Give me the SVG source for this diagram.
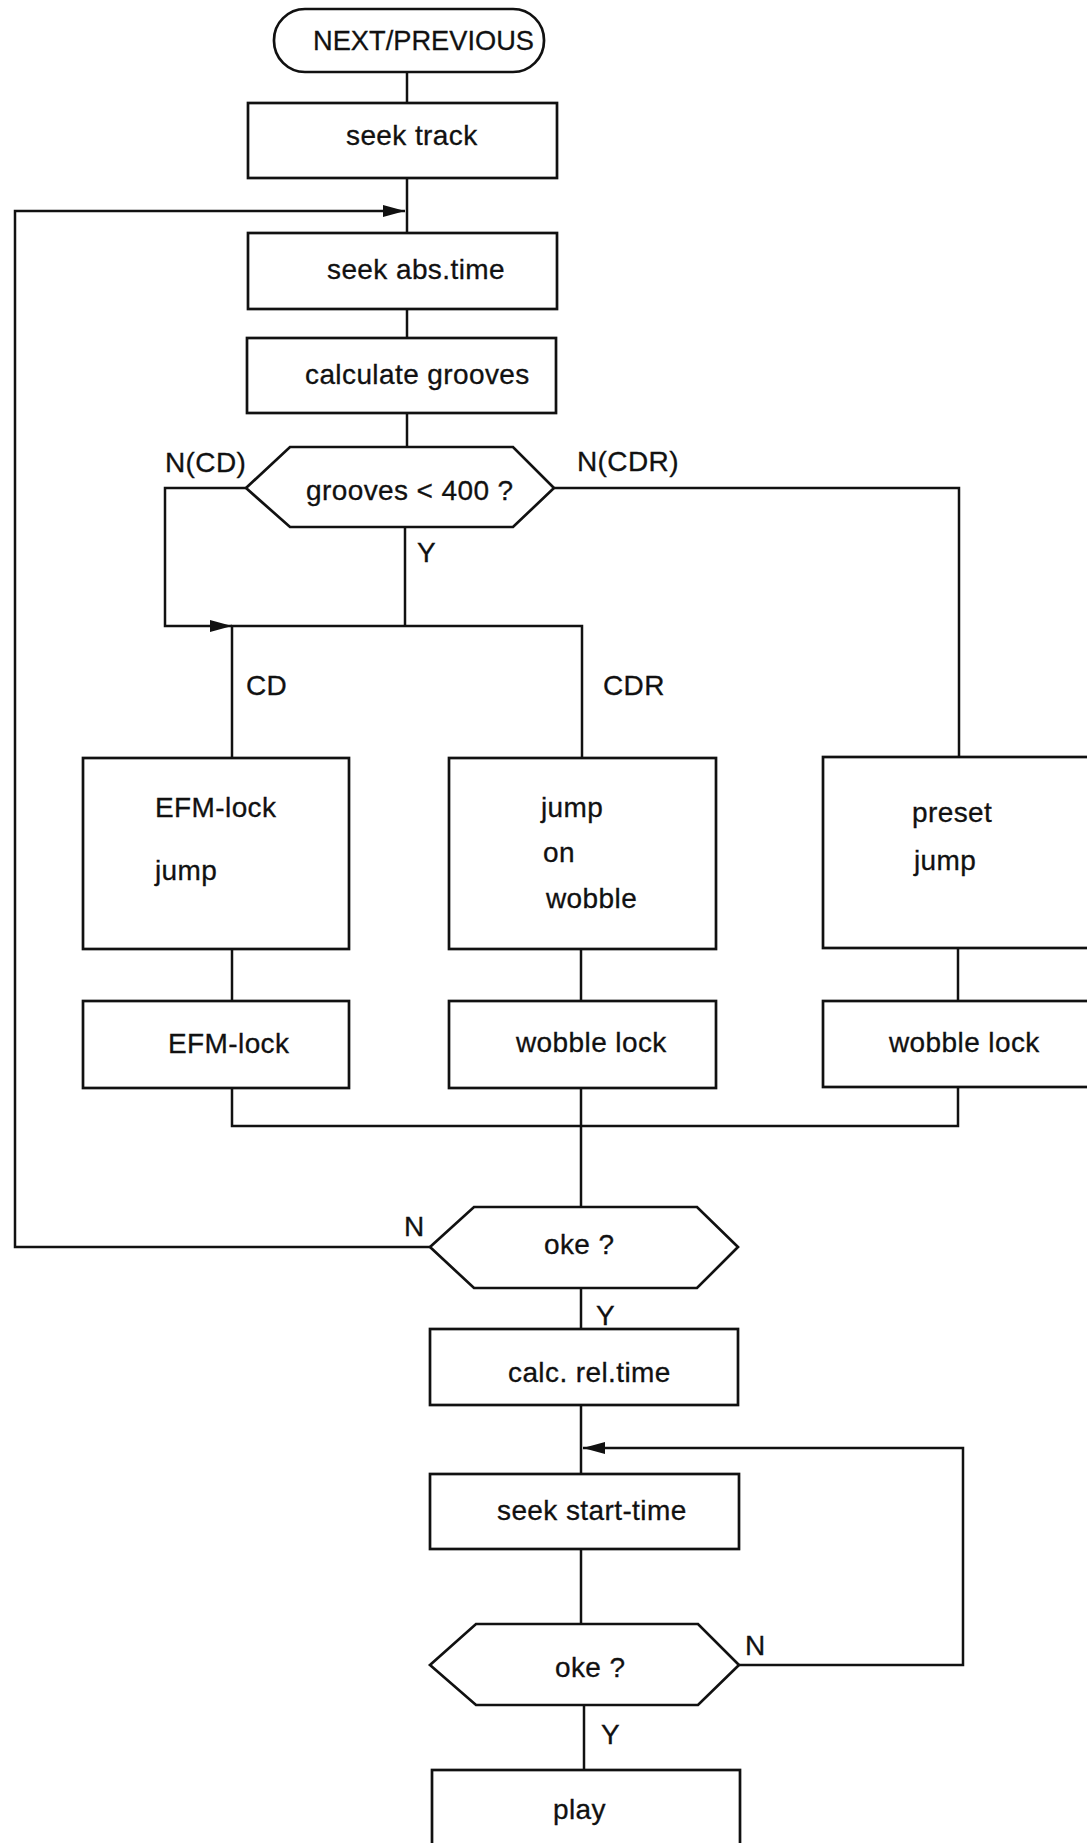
<svg xmlns="http://www.w3.org/2000/svg" width="1087" height="1843" viewBox="0 0 1087 1843">
<style>
.n{fill:#fff;stroke:#111;stroke-width:2.7}
.c{fill:none;stroke:#111;stroke-width:2.5}
text{font-family:"Liberation Sans",Arial,sans-serif;font-size:28px;letter-spacing:0.4px;fill:#111;stroke:#111;stroke-width:0.3}
</style>
<defs>
<marker id="ar" markerUnits="userSpaceOnUse" markerWidth="22" markerHeight="12" refX="22" refY="6" orient="auto">
<path d="M0,0 L22,6 L0,12 z" fill="#111"/>
</marker>
</defs>
<rect width="1087" height="1843" fill="#fff"/>
<g id="connectors">
<line class="c" x1="407" y1="72" x2="407" y2="103"/>
<line class="c" x1="407" y1="178" x2="407" y2="233"/>
<polyline class="c" points="430,1247 15,1247 15,211 405,211" marker-end="url(#ar)"/>
<line class="c" x1="407" y1="309" x2="407" y2="338"/>
<line class="c" x1="407" y1="413" x2="407" y2="447"/>
<polyline class="c" points="246,488 165,488 165,626 232,626" marker-end="url(#ar)"/>
<line class="c" x1="405" y1="527" x2="405" y2="626"/>
<polyline class="c" points="232,758 232,626 582,626 582,758"/>
<polyline class="c" points="554,488 959,488 959,757"/>
<line class="c" x1="232" y1="949" x2="232" y2="1001"/>
<line class="c" x1="581" y1="949" x2="581" y2="1001"/>
<line class="c" x1="958" y1="948" x2="958" y2="1001"/>
<polyline class="c" points="232,1088 232,1126 958,1126 958,1087"/>
<line class="c" x1="581" y1="1088" x2="581" y2="1207"/>
<line class="c" x1="581" y1="1288" x2="581" y2="1329"/>
<line class="c" x1="581" y1="1405" x2="581" y2="1474"/>
<line class="c" x1="581" y1="1549" x2="581" y2="1624"/>
<polyline class="c" points="739,1665 963,1665 963,1448 583,1448" marker-end="url(#ar)"/>
<line class="c" x1="584" y1="1705" x2="584" y2="1770"/>
</g>
<g id="labels">
<text x="165" y="472">N(CD)</text>
<text x="577" y="471">N(CDR)</text>
<text x="417" y="562">Y</text>
<text x="246" y="695">CD</text>
<text x="603" y="695">CDR</text>
<text x="404" y="1236">N</text>
<text x="596" y="1325">Y</text>
<text x="745" y="1655">N</text>
<text x="601" y="1744">Y</text>
</g>
<g id="start"><rect class="n" x="274" y="9" width="270" height="63" rx="31"/><text x="313" y="50" textLength="221" lengthAdjust="spacingAndGlyphs" style="letter-spacing:0">NEXT/PREVIOUS</text></g>
<g id="seek-track"><rect class="n" x="248" y="103" width="309" height="75"/><text x="346" y="145">seek track</text></g>
<g id="seek-abs"><rect class="n" x="248" y="233" width="309" height="76"/><text x="327" y="279">seek abs.time</text></g>
<g id="calc-grooves"><rect class="n" x="247" y="338" width="309" height="75"/><text x="305" y="384">calculate grooves</text></g>
<g id="dec-grooves"><polygon class="n" points="246,488 290,447 513,447 554,488 513,527 290,527"/><text x="306" y="500">grooves &lt; 400 ?</text></g>
<g id="efm-jump"><rect class="n" x="83" y="758" width="266" height="191"/><text x="155" y="817">EFM-lock</text><text x="155" y="880">jump</text></g>
<g id="wobble-jump"><rect class="n" x="449" y="758" width="267" height="191"/><text x="541" y="817">jump</text><text x="543" y="862">on</text><text x="546" y="908">wobble</text></g>
<g id="preset-jump"><rect class="n" x="823" y="757" width="272" height="191"/><text x="912" y="822">preset</text><text x="914" y="870">jump</text></g>
<g id="efm-lock"><rect class="n" x="83" y="1001" width="266" height="87"/><text x="168" y="1053">EFM-lock</text></g>
<g id="wobble-lock-1"><rect class="n" x="449" y="1001" width="267" height="87"/><text x="516" y="1052">wobble lock</text></g>
<g id="wobble-lock-2"><rect class="n" x="823" y="1001" width="272" height="86"/><text x="889" y="1052">wobble lock</text></g>
<g id="oke-1"><polygon class="n" points="430,1247 474,1207 697,1207 738,1247 697,1288 474,1288"/><text x="544" y="1254">oke ?</text></g>
<g id="calc-rel"><rect class="n" x="430" y="1329" width="308" height="76"/><text x="508" y="1382">calc. rel.time</text></g>
<g id="seek-start"><rect class="n" x="430" y="1474" width="309" height="75"/><text x="497" y="1520">seek start-time</text></g>
<g id="oke-2"><polygon class="n" points="430,1665 476,1624 698,1624 739,1665 698,1705 476,1705"/><text x="555" y="1677">oke ?</text></g>
<g id="play"><rect class="n" x="432" y="1770" width="308" height="90"/><text x="553" y="1819">play</text></g>
</svg>
